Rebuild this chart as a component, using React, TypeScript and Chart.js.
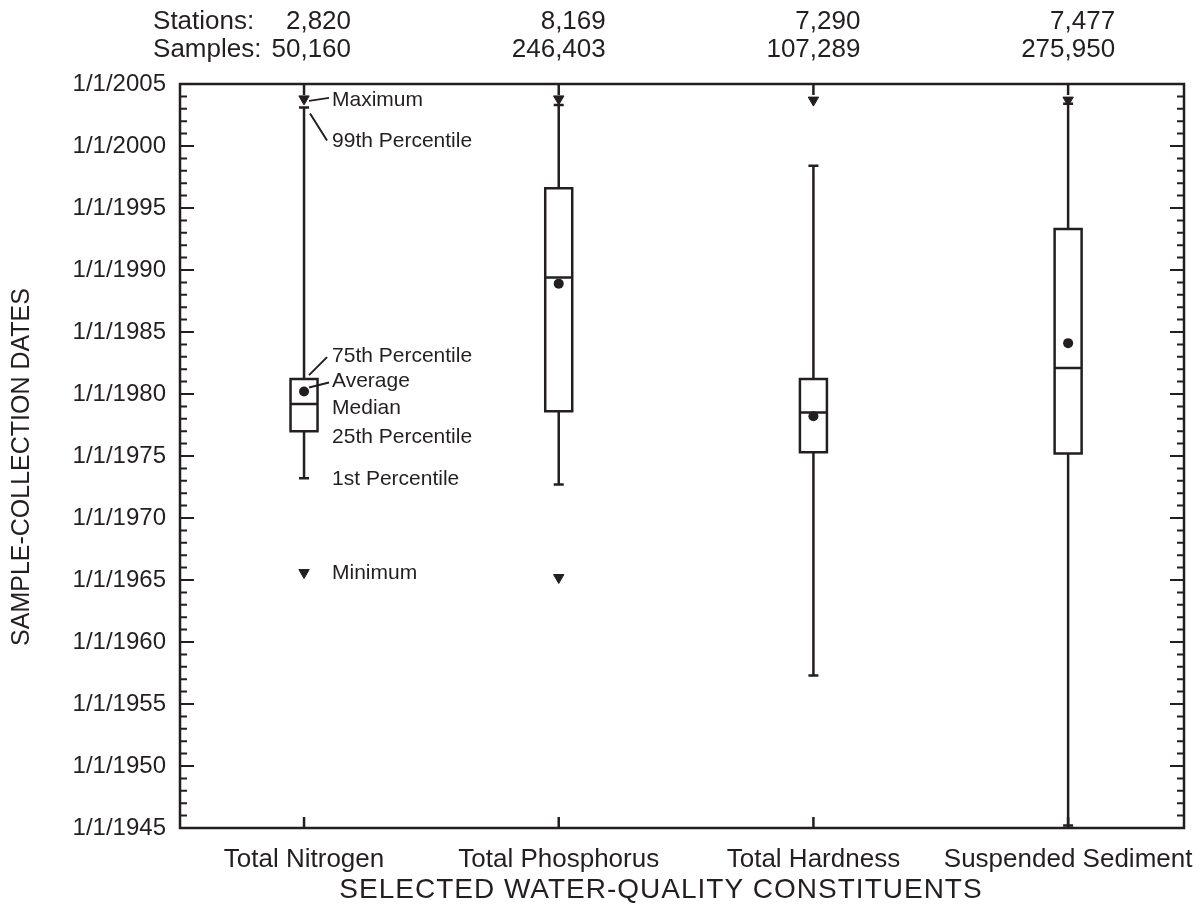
import React, { useEffect, useRef } from "react";
import { Chart, registerables } from "chart.js";

Chart.register(...registerables);

const categories = ["Total Nitrogen", "Total Phosphorus", "Total Hardness", "Suspended Sediment"];
const stations = ["2,820", "8,169", "7,290", "7,477"];
const samples = ["50,160", "246,403", "107,289", "275,950"];

const maximum: (number | null)[] = [2003.8, 2003.8, 2003.7, 2003.7];
const p99 = [2003.1, 2003.3, 1998.4, 2003.4];
const q3 = [1981.2, 1996.6, 1981.2, 1993.3];
const median = [1979.2, 1989.4, 1978.5, 1982.1];
const mean = [1980.2, 1988.9, 1978.2, 1984.1];
const q1 = [1977.0, 1978.6, 1975.3, 1975.2];
const p1 = [1973.2, 1972.7, 1957.3, 1945.2];
const minimum: (number | null)[] = [1965.6, 1965.2, null, null];

const yMin = 1945;
const yMax = 2005;
const yStep = 5;

const xTitle = "SELECTED WATER-QUALITY CONSTITUENTS";
const yTitle = "SAMPLE-COLLECTION DATES";

const annotationLabels = [
  "Maximum",
  "99th Percentile",
  "75th Percentile",
  "Average",
  "Median",
  "25th Percentile",
  "1st Percentile",
  "Minimum",
];

const INK = "#231f20";
const FONT = "'Liberation Sans', Arial, Helvetica, sans-serif";

const drawPlugin = {
  id: "boxDraw",
  beforeDatasetsDraw(chart: any) {
    const ctx = chart.ctx;
    const xs = chart.scales.x;
    const ys = chart.scales.y;
    const area = chart.chartArea;
    ctx.save();
    ctx.strokeStyle = INK;
    ctx.fillStyle = INK;
    ctx.lineCap = "butt";

    // frame
    ctx.lineWidth = 2.5;
    ctx.strokeRect(area.left, area.top, area.right - area.left, area.bottom - area.top);

    // y ticks (inward, both sides)
    ctx.lineWidth = 2;
    for (let yr = yMin; yr <= yMax; yr++) {
      const py = ys.getPixelForValue(yr);
      const len = yr % yStep === 0 ? 14 : 7;
      ctx.beginPath();
      ctx.moveTo(area.left, py);
      ctx.lineTo(area.left + len, py);
      ctx.moveTo(area.right, py);
      ctx.lineTo(area.right - len, py);
      ctx.stroke();
    }
    // x ticks top and bottom
    ctx.lineWidth = 2.5;
    categories.forEach((_, i) => {
      const px = xs.getPixelForValue(i);
      ctx.beginPath();
      ctx.moveTo(px, area.top);
      ctx.lineTo(px, area.top + 11);
      ctx.moveTo(px, area.bottom);
      ctx.lineTo(px, area.bottom - 11);
      ctx.stroke();
    });

    // boxes and whiskers
    const halfBox = 13.5;
    const halfCap = 5;
    ctx.lineWidth = 2.5;
    categories.forEach((_, i) => {
      const cx = xs.getPixelForValue(i);
      const yq3 = ys.getPixelForValue(q3[i]);
      const yq1 = ys.getPixelForValue(q1[i]);
      const ymed = ys.getPixelForValue(median[i]);
      const yp99 = ys.getPixelForValue(p99[i]);
      const yp1 = ys.getPixelForValue(p1[i]);
      ctx.beginPath();
      ctx.rect(cx - halfBox, yq3, halfBox * 2, yq1 - yq3);
      ctx.moveTo(cx - halfBox, ymed);
      ctx.lineTo(cx + halfBox, ymed);
      ctx.moveTo(cx, yq3);
      ctx.lineTo(cx, yp99);
      ctx.moveTo(cx - halfCap, yp99);
      ctx.lineTo(cx + halfCap, yp99);
      ctx.moveTo(cx, yq1);
      ctx.lineTo(cx, yp1);
      ctx.moveTo(cx - halfCap, yp1);
      ctx.lineTo(cx + halfCap, yp1);
      ctx.stroke();
    });
    ctx.restore();
  },
  afterDraw(chart: any) {
    const ctx = chart.ctx;
    const xs = chart.scales.x;
    const ys = chart.scales.y;
    const area = chart.chartArea;
    ctx.save();
    ctx.fillStyle = INK;
    ctx.strokeStyle = INK;

    // header
    ctx.font = `26px ${FONT}`;
    ctx.textBaseline = "middle";
    const rowA = 22;
    const rowB = 50;
    const x0 = xs.getPixelForValue(0);
    ctx.textAlign = "left";
    ctx.fillText("Stations:", x0 - 151, rowA);
    ctx.fillText("Samples:", x0 - 151, rowB);
    ctx.textAlign = "right";
    categories.forEach((_, i) => {
      const px = xs.getPixelForValue(i) + 47;
      ctx.fillText(stations[i], px, rowA);
      ctx.fillText(samples[i], px, rowB);
    });

    // axis titles
    ctx.textAlign = "center";
    ctx.save();
    ctx.font = `28px ${FONT}`;
    try {
      (ctx as any).letterSpacing = "1px";
    } catch (e) {}
    ctx.fillText(xTitle, (area.left + area.right) / 2 - 21, area.bottom + 62);
    ctx.restore();
    ctx.save();
    ctx.translate(22, (area.top + area.bottom) / 2 + 11);
    ctx.rotate(-Math.PI / 2);
    ctx.font = `25px ${FONT}`;
    ctx.fillText(yTitle, 0, 0);
    ctx.restore();

    // annotations for first box
    const cx = x0;
    const tx = cx + 28;
    const yMaxP = ys.getPixelForValue(maximum[0] as number);
    const y99 = ys.getPixelForValue(p99[0]);
    const yQ3 = ys.getPixelForValue(q3[0]);
    const yMean = ys.getPixelForValue(mean[0]);
    const yMed = ys.getPixelForValue(median[0]);
    const yQ1 = ys.getPixelForValue(q1[0]);
    const yP1 = ys.getPixelForValue(p1[0]);
    const yMinP = ys.getPixelForValue(minimum[0] as number);

    ctx.lineWidth = 2;
    ctx.beginPath();
    ctx.moveTo(cx + 5, yMaxP + 2);
    ctx.lineTo(cx + 25, yMaxP - 1);
    ctx.moveTo(cx + 6, y99 + 6);
    ctx.lineTo(cx + 23, y99 + 33);
    ctx.moveTo(cx + 5, yQ3 - 4);
    ctx.lineTo(cx + 23, yQ3 - 22);
    ctx.moveTo(cx + 5, yMean - 4);
    ctx.lineTo(cx + 25, yMean - 9);
    ctx.stroke();

    ctx.font = `21px ${FONT}`;
    ctx.textAlign = "left";
    ctx.textBaseline = "middle";
    const positions = [yMaxP, y99 + 33, yQ3 - 24, yMean - 11, yMed + 3, yQ1 + 5, yP1, yMinP];
    annotationLabels.forEach((t, i) => ctx.fillText(t, tx, positions[i] + 1));
    ctx.restore();
  },
};

export default function App() {
  const ref = useRef<HTMLCanvasElement | null>(null);
  useEffect(() => {
    document.body.style.margin = "0";
    const canvas = ref.current;
    if (!canvas) return;
    const pts = (arr: (number | null)[]) =>
      arr
        .map((v, i) => (v === null ? null : { x: i, y: v }))
        .filter((p) => p !== null) as { x: number; y: number }[];
    const chart = new Chart(canvas, {
      type: "scatter",
      data: {
        datasets: [
          {
            label: "Average",
            data: pts(mean),
            pointStyle: "circle",
            pointRadius: 5,
            backgroundColor: INK,
            borderColor: INK,
            borderWidth: 0,
          },
          {
            label: "Maximum",
            data: pts(maximum),
            pointStyle: "triangle",
            rotation: 180,
            pointRadius: 6,
            backgroundColor: INK,
            borderColor: INK,
            borderWidth: 1,
          },
          {
            label: "Minimum",
            data: pts(minimum),
            pointStyle: "triangle",
            rotation: 180,
            pointRadius: 6,
            backgroundColor: INK,
            borderColor: INK,
            borderWidth: 1,
          },
        ],
      },
      options: {
        animation: false,
        responsive: false,
        maintainAspectRatio: false,
        layout: { padding: { top: 84, right: 16, left: 0, bottom: 0 } },
        plugins: { legend: { display: false }, tooltip: { enabled: false } },
        scales: {
          x: {
            type: "linear",
            min: -0.487,
            max: 3.455,
            afterBuildTicks: (s: any) => {
              s.ticks = categories.map((_, i) => ({ value: i }));
            },
            afterFit: (s: any) => {
              s.height = 94;
              s.paddingLeft = 0;
              s.paddingRight = 0;
            },
            ticks: {
              autoSkip: false,
              maxRotation: 0,
              padding: 16,
              color: INK,
              font: { family: FONT, size: 26 },
              callback: (v: any) => categories[Math.round(Number(v))] ?? "",
            },
            grid: { display: false, drawTicks: false },
            border: { display: false },
          },
          y: {
            type: "linear",
            min: yMin,
            max: yMax,
            afterFit: (s: any) => {
              s.width = 180;
              s.paddingTop = 0;
              s.paddingBottom = 0;
            },
            ticks: {
              stepSize: yStep,
              padding: 14,
              color: INK,
              font: { family: FONT, size: 24 },
              callback: (v: any) => "1/1/" + v,
            },
            grid: { display: false, drawTicks: false },
            border: { display: false },
          },
        },
      },
      plugins: [drawPlugin],
    });
    return () => chart.destroy();
  }, []);
  return (
    <div style={{ width: 1200, height: 922 }}>
      <canvas ref={ref} width={1200} height={922} style={{ display: "block" }} />
    </div>
  );
}
